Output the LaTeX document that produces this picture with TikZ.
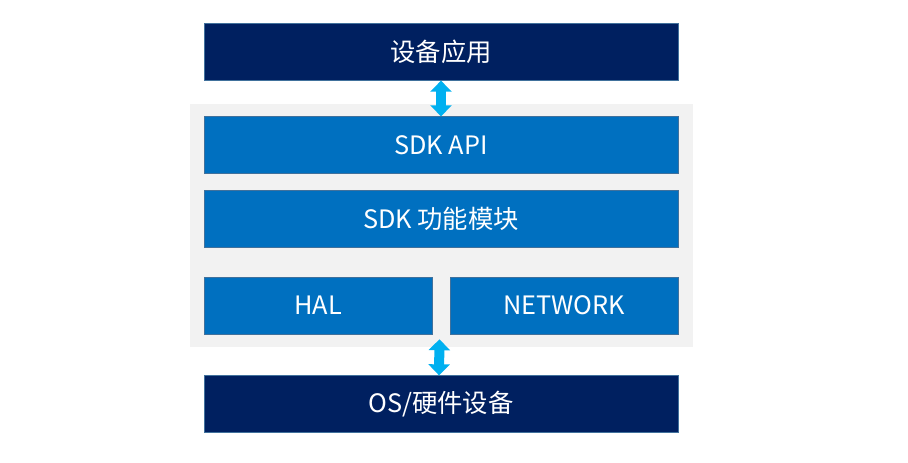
\documentclass[tikz,border=0pt]{standalone}
\usepackage{fontspec}
\setmainfont{Noto Sans CJK SC}
\usetikzlibrary{arrows.meta}
\definecolor{hostnavy}{HTML}{002060}
\definecolor{sdkblue}{HTML}{0070C0}
\definecolor{panelgray}{HTML}{F2F2F2}
\definecolor{linkcyan}{HTML}{00B0F0}
\definecolor{edgeblue}{HTML}{41719C}
\tikzset{
  layer/.style={draw=edgeblue, line width=0.4pt, text=white, inner sep=0pt, outer sep=0pt,
    minimum height=43pt, font=\fontsize{19}{21}\selectfont},
  hostbox/.style={layer, fill=hostnavy, minimum width=355.5pt},
  sdkbox/.style={layer, fill=sdkblue, minimum width=355.5pt},
  halfbox/.style={layer, fill=sdkblue, minimum width=171pt},
  link/.style={draw=linkcyan, line width=7.5pt,
    {Triangle[length=8.25pt,width=15.75pt]}-{Triangle[length=8.25pt,width=15.75pt]}}
}
\begin{document}
\begin{tikzpicture}[x=0.75pt, y=-0.75pt]
	\useasboundingbox (0,0) rectangle (908,462);
	% grey panel behind the SDK layers
	\node[fill=panelgray, inner sep=0pt, minimum width=377.25pt, minimum height=182.25pt] (core) at (441.5,225.5) {};
	\node[hostbox] (app) at (441,52) {设备应用};
	\node[sdkbox] (api) at (441,145) {SDK API};
	\node[sdkbox] (func) at (441,219) {SDK 功能模块};
	\node[halfbox] (hal) at (318,305.5) {HAL};
	\node[halfbox] (net) at (564,305.5) {NETWORK};
	\node[hostbox] (os) at (441,404) {OS/硬件设备};
	% links
	\draw[link] (app.south) -- (api.north);
	\draw[link] ([xshift=-1.5pt,yshift=6pt]core.south) -- ([xshift=-1.5pt]os.north);
\end{tikzpicture}
\end{document}
